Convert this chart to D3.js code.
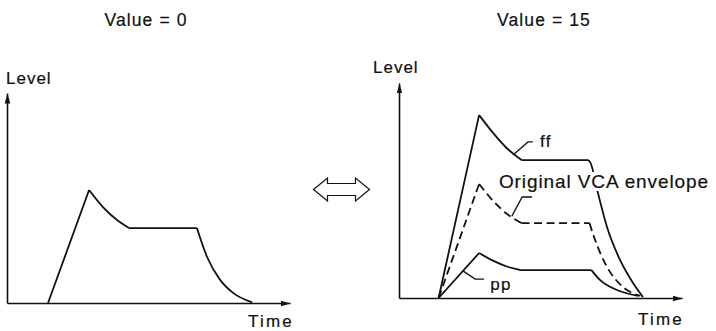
<!DOCTYPE html>
<html lang="en">
<head>
<meta charset="utf-8">
<script src="https://d3js.org/d3.v7.min.js"></script>
<style>
  * { margin: 0; padding: 0 }
  body { width: 716px; height: 331px; background: #fff; overflow: hidden }
  text { font-family: "Liberation Sans", Arial, sans-serif; fill: #111; stroke: #111; stroke-width: 0.2 }
  text.halo { fill: #fff; stroke: #fff; stroke-width: 6 }
</style>
</head>
<body>
<script>
// time runs 0..100 along each time axis, level 0..100 is the height of the left level axis
const panelTitles = ["Value = 0", "Value = 15"];
const axisLabels = ["Level", "Time"];
const curveLabels = ["ff", "Original VCA envelope", "pp"];

// envelopes as segments: attack, decay, sustain, release  ([time, level])
const envValue0 = [
  [[14.5, 0], [29, 53.8]],
  [[29, 53.8], [33.9, 45.7], [38.9, 39.5], [43.1, 35.7]],
  [[43.1, 35.7], [67.1, 35.7]],
  [[67.1, 35.7], [70.7, 21.9], [75.3, 11], [79.9, 4.8], [86.6, 0.3]]
];
const envOriginal = [
  [[14, 0], [28.3, 54.3]],
  [[28.3, 54.3], [33.3, 46.2], [38.2, 40], [43.3, 35.7]],
  [[43.3, 35.7], [67.3, 35.7]],
  [[67.3, 35.7], [69.3, 27.6], [73.5, 14.8], [79.2, 5.2], [85.2, 1]]
];
const envFF = [
  [[14, 0], [28.3, 87.1]],
  [[28.3, 87.1], [33.3, 78.5], [38.2, 71.2], [43.3, 65.7]],
  [[43.3, 65.7], [66.8, 65.7]],
  [[66.8, 65.7], [67.6, 64.6], [70.3, 50], [73.5, 33.8], [78.1, 18.1], [82.7, 7.1], [86.2, 0.4]]
];
const envPP = [
  [[14, 0], [28.3, 21.4]],
  [[28.3, 21.4], [33.2, 17.8], [38.1, 15], [43, 13.3]],
  [[43, 13.3], [68, 13.3]],
  [[68, 13.3], [71, 8.6], [77, 3.8], [84.5, 1]]
];
// leader lines from the curves to their labels
const leaderFF = [[40.3, 68.1], [45.6, 74.3], [47.3, 74.3]];
const leaderOriginal = [[39.9, 39], [43.5, 48.1], [47, 48.1]];
const leaderPP = [[22.6, 12.9], [26.9, 9], [30, 9]];

const width = 716, height = 331;
const panels = [
  {x0: 7, y0: 303, top: 100, title: 146, level: [6, 84], time: [248, 327]},
  {x0: 399, y0: 298, top: 102.4, title: 544, level: [373, 73], time: [638, 325]}
];
const axisW = 283, axisH = 210;

const svg = d3.select("body").append("svg")
  .attr("width", width).attr("height", height);

svg.append("defs").append("marker")
  .attr("id", "arrow")
  .attr("viewBox", "0 0 10 10")
  .attr("refX", 10).attr("refY", 5)
  .attr("markerUnits", "userSpaceOnUse")
  .attr("markerWidth", 10).attr("markerHeight", 10)
  .attr("orient", "auto")
  .append("path").attr("d", "M0,2.2L10,5L0,7.8z").attr("fill", "#111");

const scales = panels.map(p => ({
  x: d3.scaleLinear().domain([0, 100]).range([p.x0, p.x0 + axisW]),
  y: d3.scaleLinear().domain([0, 100]).range([p.y0, p.y0 - axisH])
}));

panels.forEach((p, i) => {
  const {x, y} = scales[i];
  const g = svg.append("g");

  const yAx = y.copy().domain([0, p.top]).range([p.y0, y(p.top)]);
  g.append("g").attr("transform", `translate(${p.x0},0)`)
    .call(d3.axisLeft(yAx).tickValues([]).tickSizeOuter(0));
  g.append("g").attr("transform", `translate(0,${p.y0})`)
    .call(d3.axisBottom(x).tickValues([]).tickSizeOuter(0));
  g.selectAll(".domain")
    .attr("stroke", "#111").attr("stroke-width", 1.6)
    .attr("marker-end", "url(#arrow)");

  g.append("text").attr("x", p.title).attr("y", 26)
    .attr("text-anchor", "middle")
    .attr("font-size", 17.5).attr("letter-spacing", 1.1)
    .text(panelTitles[i]);
  g.append("text").attr("x", p.level[0]).attr("y", p.level[1])
    .attr("font-size", 17).attr("letter-spacing", 1)
    .text(axisLabels[0]);
  g.append("text").attr("x", p.time[0]).attr("y", p.time[1])
    .attr("font-size", 17).attr("letter-spacing", 2.2)
    .text(axisLabels[1]);
});

function drawEnv(i, segs, dashed) {
  const {x, y} = scales[i];
  const line = d3.line().x(d => x(d[0])).y(d => y(d[1])).curve(d3.curveMonotoneX);
  svg.append("path")
    .attr("d", segs.map(s => line(s)).join(""))
    .attr("fill", "none").attr("stroke", "#111")
    .attr("stroke-width", 1.8)
    .attr("stroke-linejoin", "round")
    .attr("stroke-dasharray", dashed ? "8,4.5" : null);
}

function drawLeader(i, pts) {
  const {x, y} = scales[i];
  svg.append("path")
    .attr("d", d3.line().x(d => x(d[0])).y(d => y(d[1]))(pts))
    .attr("fill", "none").attr("stroke", "#111").attr("stroke-width", 1.3);
}

drawEnv(0, envValue0, false);
drawEnv(1, envFF, false);
drawEnv(1, envOriginal, true);
drawEnv(1, envPP, false);

// curve labels (time, level of the text start), white halo under each
const r = scales[1];
const labelPos = [[49.8, 71.9], [35.3, 52.4], [32.2, 3.8]];
["halo", "ink"].forEach(cls => {
  curveLabels.forEach((t, k) => {
    svg.append("text").attr("class", cls === "halo" ? "halo" : null)
      .attr("x", r.x(labelPos[k][0])).attr("y", r.y(labelPos[k][1]))
      .attr("font-size", k === 1 ? 19 : 17)
      .attr("letter-spacing", k === 1 ? 0.9 : 1.4)
      .text(t);
  });
});

drawLeader(1, leaderFF);
drawLeader(1, leaderOriginal);
drawLeader(1, leaderPP);

// hollow double arrow between the panels
const cx = 341.5, cy = 189.5;
const arrowPts = [[-28, 0], [-14, -11.5], [-14, -6], [14, -6], [14, -11.5], [28, 0],
                  [14, 11.5], [14, 6], [-14, 6], [-14, 11.5]];
svg.append("path")
  .attr("d", d3.line().x(d => cx + d[0]).y(d => cy + d[1])(arrowPts) + "Z")
  .attr("fill", "none").attr("stroke", "#111").attr("stroke-width", 1.2)
  .attr("stroke-linejoin", "miter");
</script>
</body>
</html>
